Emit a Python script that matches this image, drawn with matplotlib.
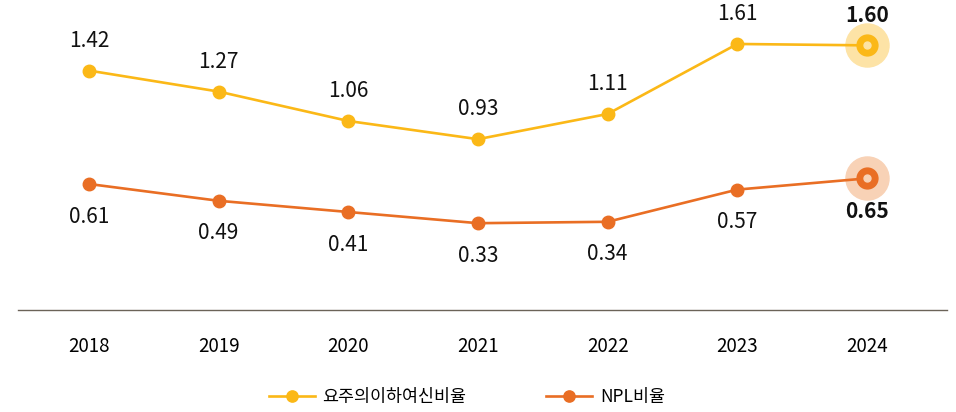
import matplotlib
matplotlib.use('Agg')
import matplotlib.pyplot as plt

plt.rcParams['font.family'] = ['Noto Sans CJK KR', 'DejaVu Sans']

years = ['2018', '2019', '2020', '2021', '2022', '2023', '2024']
watch_ratio = [1.42, 1.27, 1.06, 0.93, 1.11, 1.61, 1.60]
npl_ratio = [0.61, 0.49, 0.41, 0.33, 0.34, 0.57, 0.65]
watch_label = '요주의이하여신비율'
npl_label = 'NPL비율'

YELLOW = '#FBB817'
ORANGE = '#E96E24'

fig = plt.figure(figsize=(9.56, 4.12), dpi=100)
ax = fig.add_axes([18 / 956, 1 - 310 / 412, 929 / 956, 310 / 412])

x = list(range(len(years)))
ax.plot(x, watch_ratio, color=YELLOW, lw=1.9, marker='o', ms=9, label=watch_label, zorder=3)
ax.plot(x, npl_ratio, color=ORANGE, lw=1.9, marker='o', ms=9, label=npl_label, zorder=3)

# highlight latest points
last = x[-1]
ax.plot(last, watch_ratio[-1], 'o', ms=31, color='#FDE3A6', zorder=2)
ax.plot(last, npl_ratio[-1], 'o', ms=31, color='#F8D2B6', zorder=2)
ax.plot(last, watch_ratio[-1], 'o', ms=15, color=YELLOW, zorder=4)
ax.plot(last, npl_ratio[-1], 'o', ms=15, color=ORANGE, zorder=4)
ax.plot(last, watch_ratio[-1], 'o', ms=5, color='#FDE3A6', zorder=5)
ax.plot(last, npl_ratio[-1], 'o', ms=5, color='#F8D2B6', zorder=5)

for i, (w, n) in enumerate(zip(watch_ratio, npl_ratio)):
    bold = i == len(years) - 1
    ax.annotate(f'{w:.2f}', (i, w), xytext=(0, 21.5), textcoords='offset points',
                ha='center', va='center', fontsize=15,
                fontweight='bold' if bold else 'normal', color='#111111')
    ax.annotate(f'{n:.2f}', (i, n), xytext=(0, -23.5), textcoords='offset points',
                ha='center', va='center', fontsize=15,
                fontweight='bold' if bold else 'normal', color='#111111')

ax.set_xlim(-0.547, 6.617)
ax.set_ylim(-0.29, 1.924)
ax.set_yticks([])
ax.set_xticks(x)
ax.set_xticklabels(years, fontsize=13.5)
ax.tick_params(axis='x', length=0, pad=19)
for s in ['top', 'right', 'left']:
    ax.spines[s].set_visible(False)
ax.spines['bottom'].set_color('#6b6358')
ax.spines['bottom'].set_linewidth(1)

fig.legend(loc='center', bbox_to_anchor=(467 / 956, 1 - 397 / 412), ncol=2,
           frameon=False, fontsize=12.5, handlelength=2.65, columnspacing=4.6,
           handletextpad=0.45, markerscale=0.9)

fig.savefig('out.png', dpi=100)
